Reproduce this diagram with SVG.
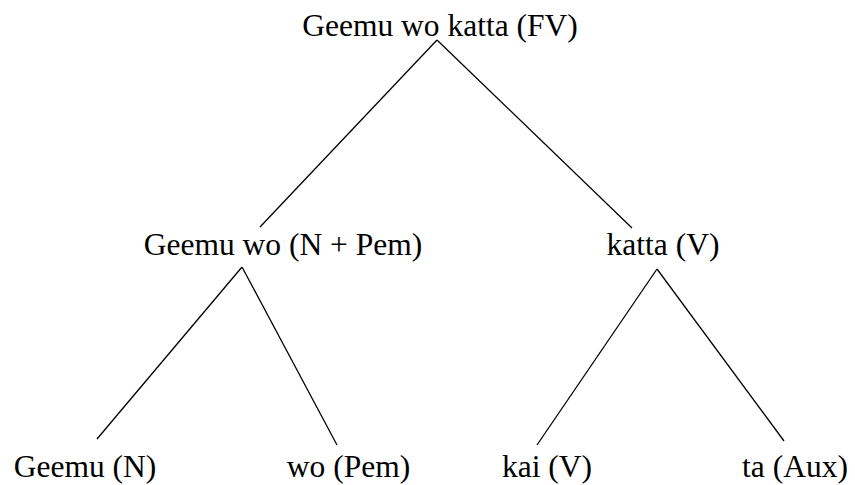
<svg xmlns="http://www.w3.org/2000/svg" width="855" height="485" viewBox="0 0 855 485">
  <style>
    .lbl { font-family: "Liberation Serif", "Times New Roman", serif; font-size: 31.5px; fill: #000; text-anchor: middle; }
    .edge { stroke: #000; stroke-width: 1.3; fill: none; }
  </style>
  <rect width="855" height="485" fill="#fff"/>
  <!-- tree branches -->
  <g id="connectors">
    <line class="edge" x1="437" y1="40" x2="260" y2="227"/>
    <line class="edge" x1="437" y1="40" x2="632" y2="228"/>
    <line class="edge" x1="242" y1="267" x2="97" y2="439"/>
    <line class="edge" x1="242" y1="267" x2="337" y2="445"/>
    <line class="edge" x1="657" y1="269" x2="537" y2="445"/>
    <line class="edge" x1="657" y1="269" x2="784" y2="441"/>
  </g>
  <!-- tree labels -->
  <g id="node-fv"><text class="lbl" x="440" y="36">Geemu wo katta (FV)</text></g>
  <g id="node-npem"><text class="lbl" x="283" y="255">Geemu wo (N + Pem)</text></g>
  <g id="node-katta"><text class="lbl" x="663" y="255">katta (V)</text></g>
  <g id="node-geemu"><text class="lbl" x="85" y="477">Geemu (N)</text></g>
  <g id="node-wo"><text class="lbl" x="348.5" y="477">wo (Pem)</text></g>
  <g id="node-kai"><text class="lbl" x="547" y="477">kai (V)</text></g>
  <g id="node-ta"><text class="lbl" x="795" y="477">ta (Aux)</text></g>
</svg>
